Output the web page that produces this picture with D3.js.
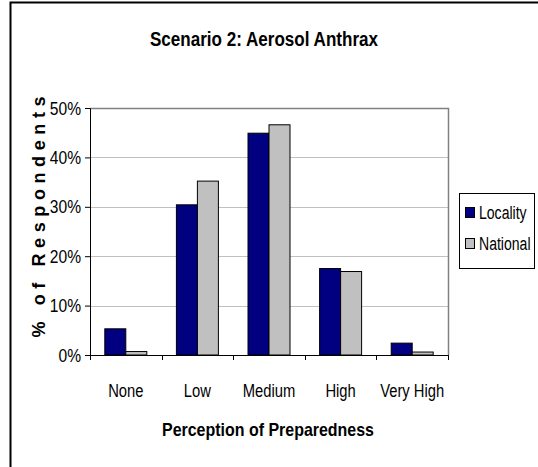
<!DOCTYPE html>
<html>
<head>
<meta charset="utf-8">
<style>
  body { margin: 0; background: #fff; }
  svg { display: block; font-family: "Liberation Sans", Arial, sans-serif; }
</style>
</head>
<body>
<svg width="538" height="467"></svg>
<script src="https://d3js.org/d3.v7.min.js"></script>
<script>
var categories = ["None", "Low", "Medium", "High", "Very High"];
var seriesNames = ["Locality", "National"];
var locality = [5.3, 30.4, 44.9, 17.5, 2.4];
var national = [0.7, 35.2, 46.6, 16.9, 0.6];
var yTicks = [0, 10, 20, 30, 40, 50];
var colors = ["#000080", "#c0c0c0"];

var svg = d3.select("svg");
var pLeft = 90, pRight = 448, pTop = 108, pBottom = 355;

// squeeze text to look like Arial Narrow
function narrow(sel, f) {
  sel.each(function() {
    var w = this.getComputedTextLength();
    d3.select(this).attr("textLength", w * (f || 0.82)).attr("lengthAdjust", "spacingAndGlyphs");
  });
}

// outer chart border
svg.append("rect")
    .attr("x", 10.5).attr("y", 2.5)
    .attr("width", 540).attr("height", 480)
    .attr("fill", "none").attr("stroke", "#000").attr("stroke-width", 2);

var x = d3.scaleBand().domain(categories).range([pLeft, pRight]);
var xs = d3.scaleBand().domain(seriesNames).range([0, x.bandwidth()]).paddingOuter(0.705);
var y = d3.scaleLinear().domain([0, 50]).range([pBottom, pTop]);

// gridlines
svg.append("g").selectAll("line").data(yTicks.slice(1, -1)).join("line")
    .attr("x1", pLeft).attr("x2", pRight)
    .attr("y1", function(d) { return Math.round(y(d)) + 0.5; })
    .attr("y2", function(d) { return Math.round(y(d)) + 0.5; })
    .attr("stroke", "#c0c0c0");

// plot area top/right border
svg.append("path")
    .attr("d", "M" + pLeft + "," + (pTop + 0.5) + "H" + (pRight + 0.5) + "V" + pBottom)
    .attr("fill", "none").attr("stroke", "#808080").attr("stroke-width", 1.5);

var data = categories.map(function(c, i) { return {cat: c, vals: [locality[i], national[i]]}; });

svg.append("g").selectAll("g").data(data).join("g")
    .attr("transform", function(d) { return "translate(" + x(d.cat) + ",0)"; })
  .selectAll("rect").data(function(d) { return d.vals.map(function(v, j) { return {s: seriesNames[j], v: v, j: j}; }); })
  .join("rect")
    .attr("x", function(d) { return xs(d.s); })
    .attr("y", function(d) { return y(d.v); })
    .attr("width", xs.bandwidth())
    .attr("height", function(d) { return pBottom - y(d.v); })
    .attr("fill", function(d) { return colors[d.j]; })
    .attr("stroke", "#000").attr("stroke-width", 1);

// y axis
var yAxis = svg.append("g").attr("transform", "translate(" + pLeft + ",0)")
    .call(d3.axisLeft(y).tickValues(yTicks).tickFormat(function(d) { return d + "%"; }).tickSize(5).tickPadding(4));
yAxis.select(".domain").attr("stroke", "#000");
yAxis.selectAll(".tick line").attr("stroke", "#000");
yAxis.selectAll("text").attr("font-size", 19).attr("fill", "#000").attr("font-family", "Liberation Sans, Arial, sans-serif").call(narrow);

// x axis
var xAxis = svg.append("g").attr("transform", "translate(0," + pBottom + ")")
    .call(d3.axisBottom(x).tickSize(0).tickPadding(29));
xAxis.select(".domain").remove();
xAxis.selectAll("text").attr("font-size", 18).attr("fill", "#000").attr("font-family", "Liberation Sans, Arial, sans-serif").call(narrow);
svg.append("line").attr("x1", pLeft).attr("x2", pRight + 0.5).attr("y1", pBottom + 0.5).attr("y2", pBottom + 0.5).attr("stroke", "#000");
svg.append("g").selectAll("line").data(categories.concat(["end"])).join("line")
    .attr("x1", function(d, i) { return Math.round(pLeft + i * x.bandwidth()) + 0.5; })
    .attr("x2", function(d, i) { return Math.round(pLeft + i * x.bandwidth()) + 0.5; })
    .attr("y1", pBottom).attr("y2", pBottom + 5)
    .attr("stroke", "#000");

// titles
svg.append("text").attr("x", 264).attr("y", 46).attr("text-anchor", "middle")
    .attr("font-size", 20).attr("font-weight", "bold").text("Scenario 2: Aerosol Anthrax")
    .attr("textLength", 228).attr("lengthAdjust", "spacingAndGlyphs");
svg.append("text").attr("x", 268).attr("y", 436).attr("text-anchor", "middle")
    .attr("font-size", 19).attr("font-weight", "bold").text("Perception of Preparedness")
    .attr("textLength", 212).attr("lengthAdjust", "spacingAndGlyphs");
svg.append("text").attr("transform", "translate(45,217) rotate(-90)").attr("text-anchor", "middle")
    .attr("font-size", 18).attr("font-weight", "bold").text("% of Respondents")
    .attr("textLength", 241).attr("lengthAdjust", "spacing");

// legend
var lg = svg.append("g");
lg.append("rect").attr("x", 459.5).attr("y", 193.5).attr("width", 75).attr("height", 75)
    .attr("fill", "#fff").attr("stroke", "#000");
seriesNames.forEach(function(s, i) {
  lg.append("rect").attr("x", 465.5).attr("y", 207.5 + i * 31).attr("width", 9).attr("height", 10)
      .attr("fill", colors[i]).attr("stroke", "#000");
  lg.append("text").attr("x", 479).attr("y", 219 + i * 31).attr("font-size", 18).text(s).call(narrow, 0.78);
});
</script>
</body>
</html>
